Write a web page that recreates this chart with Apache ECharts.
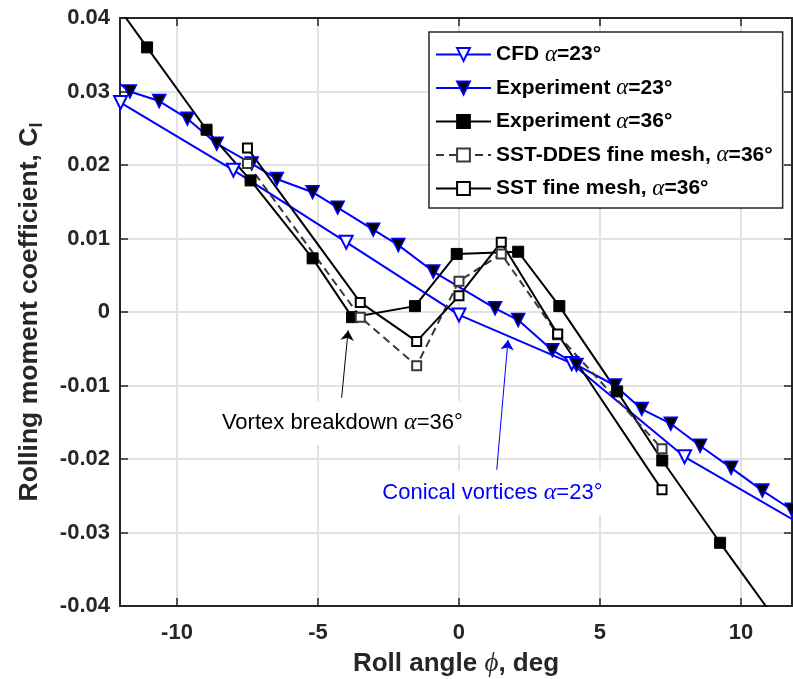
<!DOCTYPE html>
<html>
<head>
<meta charset="utf-8">
<script src="https://cdn.jsdelivr.net/npm/echarts@6/dist/echarts.min.js"></script>
<style>
  html, body { margin: 0; padding: 0; background: #fff; }
  #chart { width: 793px; height: 679px; }
</style>
</head>
<body>
<div id="chart"></div>
<script>
// Tick positions
const xTicks = [-10, -5, 0, 5, 10];

// CFD, alpha = 23 deg
const cfdPhi = [-12, -8, -4, 0, 4, 8, 12];
const cfdCl  = [0.0285, 0.0193, 0.0095, -0.0004, -0.0070, -0.0197, -0.0286];

// Experiment, alpha = 23 deg
const exp23Phi = [-12.7, -11.67, -10.63, -9.63, -8.59, -7.35, -6.46, -5.19, -4.30, -3.04, -2.15, -0.91,
                  1.28, 2.10, 3.31, 4.17, 5.53, 6.48, 7.51, 8.55, 9.65, 10.76, 11.8];
const exp23Cl  = [0.0330, 0.0300, 0.0287, 0.0263, 0.0229, 0.0202, 0.0181, 0.0163, 0.0142, 0.0112, 0.0091, 0.0055,
                  0.0005, -0.0011, -0.0052, -0.0072, -0.0100, -0.0132, -0.0152, -0.0182, -0.0212, -0.0243, -0.0269];

// Experiment, alpha = 36 deg
const exp36Phi = [-12.5, -11.06, -8.95, -7.39, -5.19, -3.79, -1.56, -0.08, 2.10, 3.56, 5.61, 7.21, 9.26, 11.5];
const exp36Cl  = [0.0437, 0.0360, 0.0248, 0.0179, 0.0073, -0.0007, 0.0008, 0.0079, 0.0082, 0.0008, -0.0108, -0.0202, -0.0314, -0.0433];

// SST-DDES fine mesh, alpha = 36 deg
const ddesPhi = [-7.5, -3.5, -1.5, 0, 1.5, 3.5, 7.2];
const ddesCl  = [0.0202, -0.0007, -0.0073, 0.0042, 0.0079, -0.0031, -0.0186];

// SST fine mesh, alpha = 36 deg
const sstPhi = [-7.5, -3.5, -1.5, 0, 1.5, 3.5, 7.2];
const sstCl  = [0.0223, 0.0013, -0.0040, 0.0022, 0.0095, -0.0030, -0.0242];

const zip = (xs, ys) => xs.map((x, i) => [x, ys[i]]);

const SANS = 'Liberation Sans, Arial, Helvetica, sans-serif';
const SERIF = 'Liberation Serif, DejaVu Serif, serif';
const AXIS_COLOR = '#262626';
const GRID_COLOR = '#e2e2e2';

// Legend labels as rich text (italic Greek alpha)
const legendRich = {
  'CFD α=23°': '{b|CFD }{a|α}{b|=23°}',
  'Experiment α=23°': '{b|Experiment }{a|α}{b|=23°}',
  'Experiment α=36°': '{b|Experiment }{a|α}{b|=36°}',
  'SST-DDES fine mesh, α=36°': '{b|SST-DDES fine mesh, }{a|α}{b|=36°}',
  'SST fine mesh, α=36°': '{b|SST fine mesh, }{a|α}{b|=36°}'
};

const chart = echarts.init(document.getElementById('chart'), null, { renderer: 'canvas' });

const valueAxisCommon = {
  type: 'value',
  axisLine: { show: true, onZero: false, lineStyle: { color: AXIS_COLOR, width: 2 } }
};

// Annotation arrow: thin line with a filled head at the end
function arrowLine(color, from, to) {
  return {
    silent: true,
    symbol: ['none', 'arrow'],
    symbolSize: 10,
    label: { show: false },
    lineStyle: { color: color, width: 1, type: 'solid' },
    emphasis: { disabled: true },
    data: [[{ coord: from }, { coord: to }]]
  };
}

function noteLabel(color, text, at) {
  return {
    silent: true,
    symbol: 'rect',
    symbolSize: 1,
    itemStyle: { color: 'rgba(0,0,0,0)' },
    label: {
      show: true,
      position: 'inside',
      backgroundColor: '#fff',
      padding: [10, 4, 10, 6],
      formatter: text,
      rich: {
        n: { fontFamily: SANS, fontSize: 22, color: color },
        g: { fontFamily: SERIF, fontStyle: 'italic', fontSize: 24, color: color }
      }
    },
    data: [{ coord: at }]
  };
}

const option = {
  animation: false,
  backgroundColor: '#fff',
  grid: { left: 120, top: 18, width: 672, height: 588, containLabel: false, outerBoundsMode: 'none' },
  legend: {
    orient: 'vertical',
    left: 429,
    top: 32,
    padding: [11, 10, 8, 6],
    itemGap: 10.5,
    itemWidth: 55,
    itemHeight: 16,
    backgroundColor: '#fff',
    borderColor: AXIS_COLOR,
    borderWidth: 1.5,
    selectedMode: false,
    formatter: name => legendRich[name] || name,
    textStyle: {
      color: '#000',
      rich: {
        b: { fontFamily: SANS, fontWeight: 'bold', fontSize: 21, color: '#000' },
        a: { fontFamily: SERIF, fontStyle: 'italic', fontSize: 23, color: '#000' }
      }
    },
    data: ['CFD α=23°', 'Experiment α=23°', 'Experiment α=36°', 'SST-DDES fine mesh, α=36°', 'SST fine mesh, α=36°']
  },
  xAxis: [
    Object.assign({}, valueAxisCommon, {
      position: 'bottom',
      min: -12.02,
      max: 11.81,
      axisTick: { show: true, inside: true, length: 8, customValues: xTicks, lineStyle: { color: AXIS_COLOR, width: 1.5 } },
      axisLabel: {
        show: true, customValues: xTicks, margin: 16,
        fontFamily: SANS, fontWeight: 'bold', fontSize: 22, color: AXIS_COLOR,
        formatter: v => String(v)
      },
      splitLine: { show: true, lineStyle: { color: GRID_COLOR, width: 2 } },
      name: '{b|Roll angle }{g|ϕ}{b|, deg}',
      nameLocation: 'middle',
      nameGap: 44,
      nameTextStyle: {
        rich: {
          b: { fontFamily: SANS, fontWeight: 'bold', fontSize: 26, color: AXIS_COLOR },
          g: { fontFamily: SERIF, fontStyle: 'italic', fontSize: 27, color: AXIS_COLOR }
        }
      }
    }),
    Object.assign({}, valueAxisCommon, {
      position: 'top',
      min: -12.02,
      max: 11.81,
      axisTick: { show: true, inside: true, length: 8, customValues: xTicks, lineStyle: { color: AXIS_COLOR, width: 1.5 } },
      axisLabel: { show: false },
      splitLine: { show: false }
    })
  ],
  yAxis: [
    Object.assign({}, valueAxisCommon, {
      position: 'left',
      min: -0.04,
      max: 0.04,
      interval: 0.01,
      axisTick: { show: true, inside: true, length: 8, lineStyle: { color: AXIS_COLOR, width: 1.5 } },
      axisLabel: {
        show: true, margin: 10,
        fontFamily: SANS, fontWeight: 'bold', fontSize: 22, color: AXIS_COLOR,
        formatter: v => (Math.abs(v) < 1e-9 ? '0' : v.toFixed(2))
      },
      splitLine: { show: true, lineStyle: { color: GRID_COLOR, width: 2 } },
      name: '{b|Rolling moment coefficient, C}{s|l}',
      nameLocation: 'middle',
      nameGap: 74,
      nameTextStyle: {
        rich: {
          b: { fontFamily: SANS, fontWeight: 'bold', fontSize: 26.5, color: AXIS_COLOR, lineHeight: 32 },
          s: { fontFamily: SANS, fontWeight: 'bold', fontSize: 18, color: AXIS_COLOR, lineHeight: 32, verticalAlign: 'bottom', padding: [12, 0, 0, 0] }
        }
      }
    }),
    Object.assign({}, valueAxisCommon, {
      position: 'right',
      min: -0.04,
      max: 0.04,
      interval: 0.01,
      axisTick: { show: true, inside: true, length: 8, lineStyle: { color: AXIS_COLOR, width: 1.5 } },
      axisLabel: { show: false },
      splitLine: { show: false }
    })
  ],
  series: [
    {
      name: 'CFD α=23°',
      type: 'line',
      xAxisIndex: 0, yAxisIndex: 0,
      data: zip(cfdPhi, cfdCl),
      clip: true,
      showAllSymbol: true,
      symbol: 'triangle',
      symbolRotate: 180,
      symbolSize: 13,
      lineStyle: { color: '#0000ff', width: 2 },
      itemStyle: { color: '#ffffff', borderColor: '#0000ff', borderWidth: 2 },
      emphasis: { disabled: true },
      markLine: arrowLine('#0000ff', [1.34, -0.02146], [1.74, -0.0038]),
      markPoint: noteLabel('#0000ff', '{n|Conical vortices }{g|α}{n|=23°}', [1.15, -0.0246])
    },
    {
      name: 'Experiment α=23°',
      type: 'line',
      xAxisIndex: 0, yAxisIndex: 0,
      data: zip(exp23Phi, exp23Cl),
      clip: true,
      showAllSymbol: true,
      symbol: 'triangle',
      symbolRotate: 180,
      symbolSize: 13,
      lineStyle: { color: '#0000ff', width: 2 },
      itemStyle: { color: '#000000', borderColor: '#0000ff', borderWidth: 1.5 },
      emphasis: { disabled: true }
    },
    {
      name: 'Experiment α=36°',
      type: 'line',
      xAxisIndex: 0, yAxisIndex: 0,
      data: zip(exp36Phi, exp36Cl),
      clip: true,
      showAllSymbol: true,
      symbol: 'rect',
      symbolSize: 11,
      lineStyle: { color: '#000000', width: 2 },
      itemStyle: { color: '#000000', borderColor: '#000000', borderWidth: 1 },
      emphasis: { disabled: true },
      markLine: arrowLine('#000000', [-4.16, -0.01166], [-3.93, -0.0025]),
      markPoint: noteLabel('#000000', '{n|Vortex breakdown }{g|α}{n|=36°}', [-4.17, -0.0151])
    },
    {
      name: 'SST-DDES fine mesh, α=36°',
      type: 'line',
      xAxisIndex: 0, yAxisIndex: 0,
      data: zip(ddesPhi, ddesCl),
      clip: true,
      showAllSymbol: true,
      symbol: 'rect',
      symbolSize: 9,
      lineStyle: { color: '#383838', width: 2, type: [8, 5] },
      itemStyle: { color: '#ffffff', borderColor: '#383838', borderWidth: 2 },
      emphasis: { disabled: true }
    },
    {
      name: 'SST fine mesh, α=36°',
      type: 'line',
      xAxisIndex: 0, yAxisIndex: 0,
      data: zip(sstPhi, sstCl),
      clip: true,
      showAllSymbol: true,
      symbol: 'rect',
      symbolSize: 9,
      lineStyle: { color: '#000000', width: 2 },
      itemStyle: { color: '#ffffff', borderColor: '#000000', borderWidth: 2 },
      emphasis: { disabled: true }
    }
  ]
};

chart.setOption(option);
</script>
</body>
</html>
